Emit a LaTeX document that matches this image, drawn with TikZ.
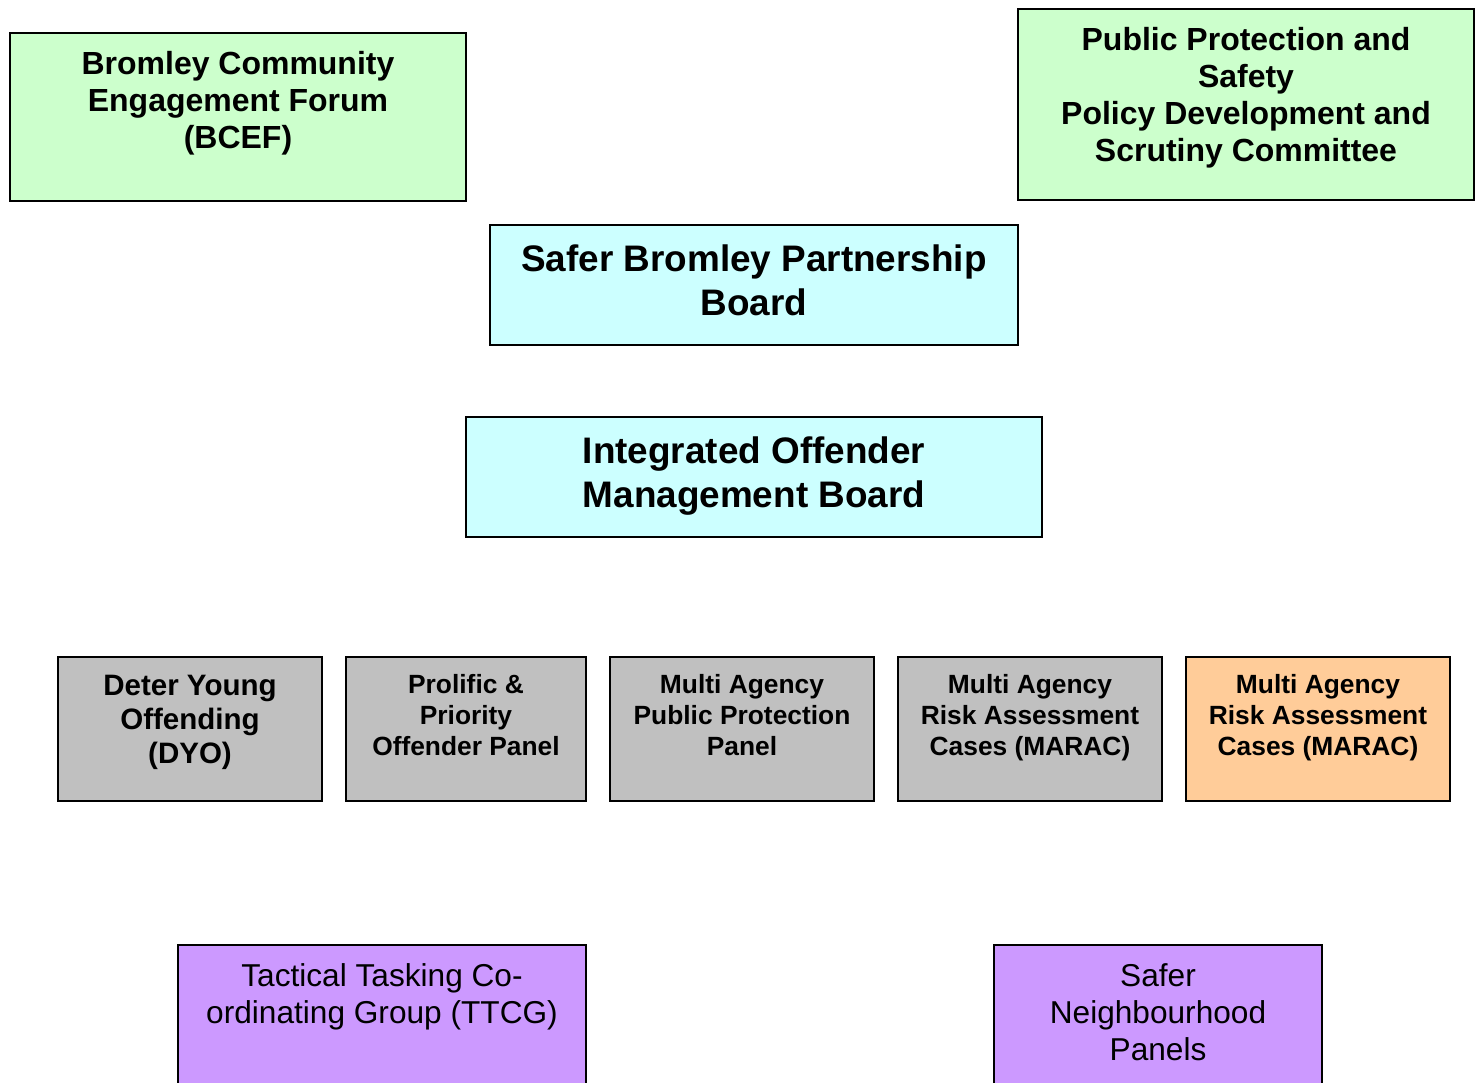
\documentclass[tikz,border=0pt]{standalone}
\usepackage{fontspec}
\setmainfont{Liberation Sans}
\definecolor{forumgreen}{HTML}{CCFFCC}
\definecolor{boardcyan}{HTML}{CCFFFF}
\definecolor{panelgrey}{HTML}{C0C0C0}
\definecolor{maracorange}{HTML}{FFCC99}
\definecolor{groupviolet}{HTML}{CC99FF}
\tikzset{
	orgbox/.style={draw, line width=1.2pt},
	toptext/.style={align=center, inner sep=0pt, font=\bfseries\fontsize{18.2}{21}\selectfont},
	boardtext/.style={align=center, inner sep=0pt, font=\bfseries\fontsize{21}{25}\selectfont},
	paneltext/.style={align=center, inner sep=0pt, font=\bfseries\fontsize{15}{17.6}\selectfont},
	grouptext/.style={align=center, inner sep=0pt, font=\fontsize{18}{21}\selectfont}
}
\begin{document}
\begin{tikzpicture}
		\clip (0,0) rectangle (29.58,-21.64);
		\fill[orgbox, fill=forumgreen] (0.2,-0.66) rectangle (9.32,-4.02);
		\fill[orgbox, fill=forumgreen] (20.36,-0.18) rectangle (29.48,-4.0);
		\fill[orgbox, fill=boardcyan] (9.8,-4.5) rectangle (20.36,-6.9);
		\fill[orgbox, fill=boardcyan] (9.32,-8.34) rectangle (20.84,-10.74);
		\fill[orgbox, fill=panelgrey] (1.16,-13.14) rectangle (6.44,-16.02);
		\fill[orgbox, fill=panelgrey] (6.92,-13.14) rectangle (11.72,-16.02);
		\fill[orgbox, fill=panelgrey] (12.2,-13.14) rectangle (17.48,-16.02);
		\fill[orgbox, fill=panelgrey] (17.96,-13.14) rectangle (23.24,-16.02);
		\fill[orgbox, fill=maracorange] (23.72,-13.14) rectangle (29.0,-16.02);
		\fill[orgbox, fill=groupviolet] (3.56,-18.9) rectangle (11.72,-22.0);
		\fill[orgbox, fill=groupviolet] (19.88,-18.9) rectangle (26.44,-22.0);
		\node[toptext] at (4.76,-2.06)(bcef){Bromley Community\\Engagement Forum\\(BCEF)};
		\node[toptext] at (24.92,-1.96)(ppsc){Public Protection and\\Safety\\Policy Development and\\Scrutiny Committee};
		\node[boardtext] at (15.08,-5.6)(sbpb){Safer Bromley Partnership\\Board};
		\node[boardtext] at (15.08,-9.52)(iomb){Integrated Offender\\Management Board};
		\node[paneltext, font=\bfseries\fontsize{16.8}{19.4}\selectfont] at (3.8,-14.45)(dyo){Deter Young\\Offending\\(DYO)};
		\node[paneltext] at (9.32,-14.3)(ppop){Prolific \&\\Priority\\Offender Panel};
		\node[paneltext] at (14.84,-14.3)(mappp){Multi Agency\\Public Protection\\Panel};
		\node[paneltext] at (20.6,-14.36)(marac){Multi Agency\\Risk Assessment\\Cases (MARAC)};
		\node[paneltext] at (26.36,-14.36)(maracb){Multi Agency\\Risk Assessment\\Cases (MARAC)};
		\node[grouptext] at (7.64,-19.93)(ttcg){Tactical Tasking Co-\\ordinating Group (TTCG)};
		\node[grouptext] at (23.16,-20.24)(snp){Safer\\Neighbourhood\\Panels};
	\end{tikzpicture}
\end{document}
